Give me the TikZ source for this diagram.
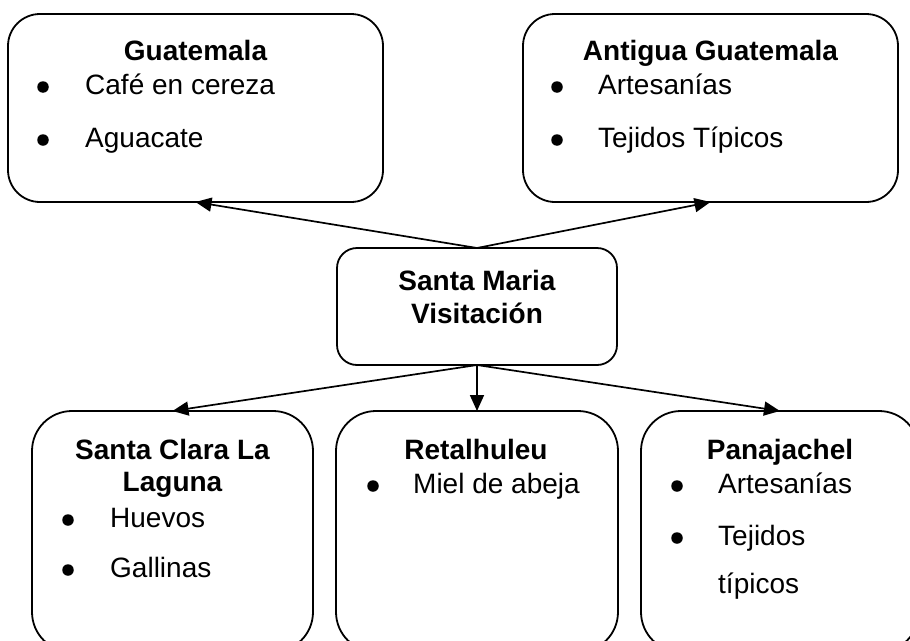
\documentclass[tikz,border=0pt]{standalone}
\usepackage{fontspec}
\setmainfont{Liberation Sans}
\usetikzlibrary{arrows.meta}
\begin{document}
\begin{tikzpicture}[x=1pt,y=-1pt,
  box/.style={draw, line width=1.8pt, rounded corners=#1, inner sep=0pt, outer sep=0pt},
  box/.default=32pt,
  title/.style={anchor=base, inner sep=0pt, font=\fontsize{28}{33}\selectfont\bfseries},
  item/.style={anchor=base west, inner sep=0pt, font=\fontsize{28}{33}\selectfont},
  dot/.style={circle, fill=black, inner sep=0pt, minimum size=11.5pt},
  arr/.style={-{Triangle[length=16pt,width=14pt]}, line width=1.7pt}]
\useasboundingbox (0,0) rectangle (910,640);
\clip (0,0) rectangle (910,640);
% boxes
\node[box, minimum width=375pt, minimum height=188pt] (guat) at (195.5,108) {};
\node[box, minimum width=375pt, minimum height=188pt] (antig) at (710.5,108) {};
\node[box=20pt, minimum width=280pt, minimum height=117pt] (smv) at (477,306.5) {};
\node[box=40pt, minimum width=281pt, minimum height=241pt] (scl) at (172.5,531.5) {};
\node[box=40pt, minimum width=282pt, minimum height=241pt] (ret) at (477,531.5) {};
\node[box=40pt, minimum width=278pt, minimum height=241pt] (pan) at (780,531.5) {};
% Guatemala
\node[title] (guatT) at (195.5,60) {Guatemala};
\node[dot] (guatD1) at (43,87) {};
\node[item] (guatI1) at (85,94) {Café en cereza};
\node[dot] (guatD2) at (43,140) {};
\node[item] (guatI2) at (85,147) {Aguacate};
% Antigua
\node[title] (antigT) at (710.5,60) {Antigua Guatemala};
\node[dot] (antigD1) at (557,87) {};
\node[item] (antigI1) at (598,94) {Artesanías};
\node[dot] (antigD2) at (557,140) {};
\node[item] (antigI2) at (598,147) {Tejidos Típicos};
% Santa Maria
\node[title] (smvT1) at (477,290) {Santa Maria};
\node[title] (smvT2) at (477,323) {Visitación};
% Santa Clara
\node[title] (sclT1) at (172.5,459) {Santa Clara La};
\node[title] (sclT2) at (172.5,491) {Laguna};
\node[dot] (sclD1) at (68,520) {};
\node[item] (sclI1) at (110,527) {Huevos};
\node[dot] (sclD2) at (68,570) {};
\node[item] (sclI2) at (110,577) {Gallinas};
% Retalhuleu
\node[title] (retT) at (476,459) {Retalhuleu};
\node[dot] (retD1) at (373,486) {};
\node[item] (retI1) at (413,493) {Miel de abeja};
% Panajachel
\node[title] (panT) at (780,459) {Panajachel};
\node[dot] (panD1) at (677,486) {};
\node[item] (panI1) at (718,493) {Artesanías};
\node[dot] (panD2) at (677,538) {};
\node[item] (panI2) at (718,545) {Tejidos};
\node[item] (panI3) at (718,593) {típicos};
% arrows
\draw[arr] (smv.north) -- (guat.south);
\draw[arr] (smv.north) -- (antig.south);
\draw[arr] (smv.south) -- (scl.north);
\draw[arr] (smv.south) -- (ret.north);
\draw[arr] (smv.south) -- (pan.north);
\end{tikzpicture}
\end{document}
